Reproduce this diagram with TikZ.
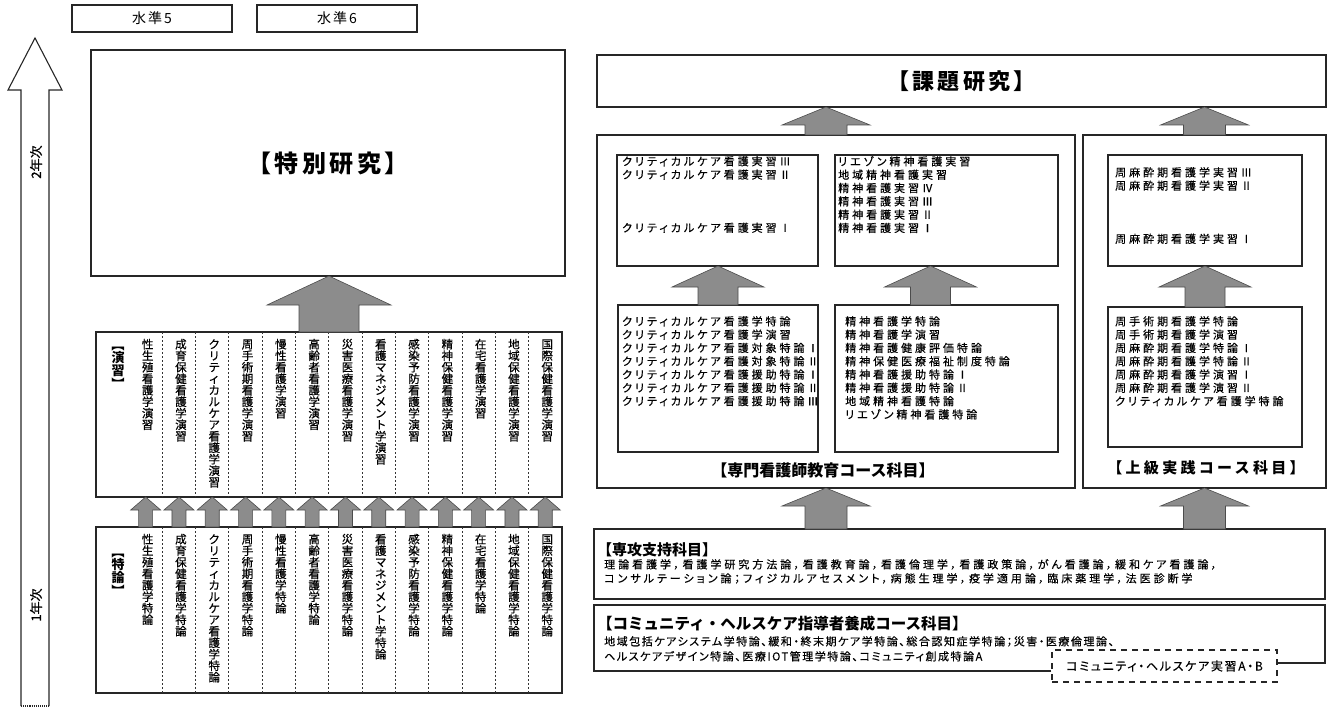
\documentclass[tikz,border=0pt]{standalone}
\usepackage{fontspec}
\usepackage{graphicx}
\setmainfont{Noto Sans CJK JP}
\newfontfamily\pfa[RawFeature=+palt,LetterSpace=27,FakeBold=0.4]{Noto Sans CJK JP}
\newfontfamily\pfb[RawFeature=+palt,LetterSpace=14,FakeBold=0.4]{Noto Sans CJK JP}
\newfontfamily\pfv[FakeBold=0.6]{Noto Sans CJK JP}
\newfontfamily\pfh[LetterSpace=15]{Noto Sans CJK JP}
\newfontfamily\pfj[LetterSpace=22]{Noto Sans CJK JP}
\usetikzlibrary{calc}
\newcommand\fs[1]{\fontsize{#1}{#1}\selectfont}
\def\tateend{\tateend}
\newcommand\tatecell[1]{\hbox to 1em{\hss\raisebox{0pt}[0.9em][0.1em]{#1}\hss}}
\def\tateloop#1{\ifx#1\tateend\else\tatecell{#1}\expandafter\tateloop\fi}
\newcommand\tate[1]{\vbox{\offinterlineskip\tateloop#1\tateend}}
\newcommand\tatex[1]{\expandafter\tate\expandafter{#1}}
\newcommand\vlb{\rotatebox[origin=c]{-90}{【}}
\newcommand\vrb{\rotatebox[origin=c]{-90}{】}}
\newcommand\bx[5]{\node[box,anchor=north west,minimum width={(#4-#2)*1pt},minimum height={(#5-#3)*1pt}] (#1) at (#2,#3) {};}
\newcommand\barrow[5]{\filldraw[barr] let \p1=(#1), \p2=(#2) in (\x1-#3,\y1) -- (\x1-#3,\y2-#5) -- (\x1-#4,\y2-#5) -- (\x1,\y2) -- (\x1+#4,\y2-#5) -- (\x1+#3,\y2-#5) -- (\x1+#3,\y1) -- cycle;}
\begin{document}
\begin{tikzpicture}[x=1pt,y=-1pt,
  box/.style={draw=black!85, line width=1.1pt, inner sep=0pt, outer sep=0pt},
  barr/.style={fill=black!45, draw=black!70, line width=0.6pt},
  sep/.style={draw=black!80, line width=0.9pt, dash pattern=on 1.5pt off 2.5pt},
  col/.style={minimum width=33.3pt, inner sep=0pt, outer sep=0pt},
  vt/.style={anchor=north, inner sep=0pt, font=\pfv\fs{11.5}},
  lst/.style={anchor=north west, align=left, inner sep=0pt, font=\pfa\fontsize{11}{13.3}\selectfont},
  hd/.style={inner sep=0pt, font=\fs{16}\bfseries},
  lvl/.style={box, minimum width=160pt, minimum height=27pt, font=\pfh\fs{14}},
  hollow/.style={draw=black!85, line width=1.1pt}
]
\useasboundingbox (0,0) rectangle (1332,711);
% level labels
\node[lvl] (lv5) at (152,18.5) {水準5};
\node[lvl] (lv6) at (337,18.5) {水準6};
% year arrow
\draw[hollow] (21,706) -- (21,90) -- (8,90) -- (35,38) -- (62,90) -- (49,90) -- (49,706);
\draw[hollow, densely dotted] (21,706) -- (49,706);
\node[rotate=90, font=\pfv\fs{13}] (y2) at (36,162) {2年次};
\node[rotate=90, font=\pfv\fs{13}] (y1) at (36,605) {1年次};
% left column
\bx{tokubetsu}{91}{50}{565}{276}
\node[font=\pfh\fs{24}\bfseries] (tokut) at (tokubetsu) {【特別研究】};
\bx{enbox}{96}{332}{562}{497}
\bx{tkbox}{96}{527}{562}{693}
\node[vt, font=\fs{13}\bfseries] (enlab) at (118,338) {\tate{\vlb 演習\vrb}};
\node[vt, font=\fs{13}\bfseries] (tklab) at (118,545) {\tate{\vlb 特論\vrb}};
\foreach \i/\a/\b in {1/性生殖看護学演習/性生殖看護学特論,
  2/成育保健看護学演習/成育保健看護学特論,
  3/クリティカルケア看護学演習/クリティカルケア看護学特論,
  4/周手術期看護学演習/周手術期看護学特論,
  5/慢性看護学演習/慢性看護学特論,
  6/高齢者看護学演習/高齢者看護学特論,
  7/災害医療看護学演習/災害医療看護学特論,
  8/看護マネジメント学演習/看護マネジメント学特論,
  9/感染予防看護学演習/感染予防看護学特論,
  10/精神保健看護学演習/精神保健看護学特論,
  11/在宅看護学演習/在宅看護学特論,
  12/地域保健看護学演習/地域保健看護学特論,
  13/国際保健看護学演習/国際保健看護学特論} {
  \pgfmathsetmacro\cx{129+33.3*(\i-0.5)}
  \node[col, minimum height=165pt] (en\i) at (\cx,414.5) {};
  \node[col, minimum height=166pt] (tk\i) at (\cx,610) {};
  \node[vt] (ent\i) at ($(en\i.north)+(2,6)$) {\tatex{\a}};
  \node[vt] (tkt\i) at ($(tk\i.north)+(2,6)$) {\tatex{\b}};
}
\foreach \i in {1,...,12} {
  \draw[sep] (en\i.north east) -- (en\i.south east);
  \draw[sep] (tk\i.north east) -- (tk\i.south east);
}
\foreach \i in {1,...,13} {\barrow{tk\i.north}{en\i.south}{7pt}{15pt}{13pt}}
\barrow{enbox.north}{tokubetsu.south}{30pt}{62pt}{29pt}
% right column
\bx{kadai}{597}{55}{1326}{107}
\node[font=\pfh\fs{22}\bfseries] (kadait) at (kadai) {【課題研究】};
\bx{senmon}{597}{135}{1075}{488}
\bx{jokyu}{1083}{135}{1326}{488}
\bx{ub1}{617}{155}{818}{266}
\bx{ub2}{835}{155}{1058}{266}
\bx{ub3}{1108}{155}{1302}{266}
\bx{lb1}{618}{305}{818}{452}
\bx{lb2}{835}{305}{1058}{452}
\bx{lb3}{1108}{307}{1302}{447}
\node[lst] (ub1t) at (622,156) {クリティカルケア看護実習Ⅲ\\クリティカルケア看護実習Ⅱ\\\mbox{}\\\mbox{}\\\mbox{}\\クリティカルケア看護実習Ⅰ};
\node[lst] (ub2t) at (838,156) {リエゾン精神看護実習\\地域精神看護実習\\精神看護実習Ⅳ\\精神看護実習Ⅲ\\精神看護実習Ⅱ\\精神看護実習Ⅰ};
\node[lst] (ub3t) at (1115,167) {周麻酔期看護学実習Ⅲ\\周麻酔期看護学実習Ⅱ\\\mbox{}\\\mbox{}\\\mbox{}\\周麻酔期看護学実習Ⅰ};
\node[lst] (lb1t) at (622,316) {クリティカルケア看護学特論\\クリティカルケア看護学演習\\クリティカルケア看護対象特論Ⅰ\\クリティカルケア看護対象特論Ⅱ\\クリティカルケア看護援助特論Ⅰ\\クリティカルケア看護援助特論Ⅱ\\クリティカルケア看護援助特論Ⅲ};
\node[lst] (lb2t) at (845,316) {精神看護学特論\\精神看護学演習\\精神看護健康評価特論\\精神保健医療福祉制度特論\\精神看護援助特論Ⅰ\\精神看護援助特論Ⅱ\\地域精神看護特論\\リエゾン精神看護特論};
\node[lst] (lb3t) at (1115,316) {周手術期看護学特論\\周手術期看護学演習\\周麻酔期看護学特論Ⅰ\\周麻酔期看護学特論Ⅱ\\周麻酔期看護学演習Ⅰ\\周麻酔期看護学演習Ⅱ\\クリティカルケア看護学特論};
\node[hd] (senmonlab) at (823,470) {【専門看護師教育コース科目】};
\node[hd, font=\pfj\fs{15}\bfseries] (jokyulab) at (1206,468) {【上級実践コース科目】};
\barrow{$(senmon.north)+(-10,0)$}{kadai.south}{21pt}{44pt}{18pt}
\barrow{jokyu.north}{kadai.south}{21pt}{44pt}{18pt}
\barrow{lb1.north}{ub1.south}{20pt}{46pt}{21pt}
\barrow{$(lb2.north)+(-16,0)$}{ub2.south}{20pt}{46pt}{21pt}
\barrow{lb3.north}{ub3.south}{20pt}{46pt}{21pt}
% support subjects
\bx{shien}{594}{529}{1325}{599}
\node[hd, anchor=west, font=\fs{15}\bfseries] (shienh) at (597,550) {【専攻支持科目】};
\node[lst, font=\pfa\fontsize{11}{14}\selectfont] (shient) at (604,559) {理論看護学，看護学研究方法論，看護教育論，看護倫理学，看護政策論，がん看護論，緩和ケア看護論，\\コンサルテーション論；フィジカルアセスメント，病態生理学，疫学適用論，臨床薬理学，法医診断学};
\barrow{$(shien.north)+(-133.5,0)$}{senmon.south}{21pt}{44pt}{18pt}
\barrow{shien.north -| jokyu.north}{jokyu.south}{21pt}{44pt}{18pt}
% community course
\coordinate (cm1) at (594,605);
\coordinate (cm2) at (1325,605);
\node[draw=black!85, line width=1.1pt, dash pattern=on 6pt off 5pt, minimum width=225pt, minimum height=32pt, inner sep=0pt, font=\pfb\fs{12}] (jisshu) at (1164.5,666) {コミュニティ・ヘルスケア実習A・B};
\draw[box] (jisshu.west |- 0,671) -- (594,671) -- (cm1) -- (cm2) -- (1325,663) -- (jisshu.east |- 0,663);
\node[hd, anchor=west, font=\fs{15.5}\bfseries] (commuh) at (597,624) {【コミュニティ・ヘルスケア指導者養成コース科目】};
\node[lst, font=\pfb\fontsize{11}{15}\selectfont] (commut) at (604,636) {地域包括ケアシステム学特論、緩和・終末期ケア学特論、総合認知症学特論；災害・医療倫理論、\\ヘルスケアデザイン特論、医療IOT管理学特論、コミュニティ創成特論A};
\end{tikzpicture}
\end{document}
